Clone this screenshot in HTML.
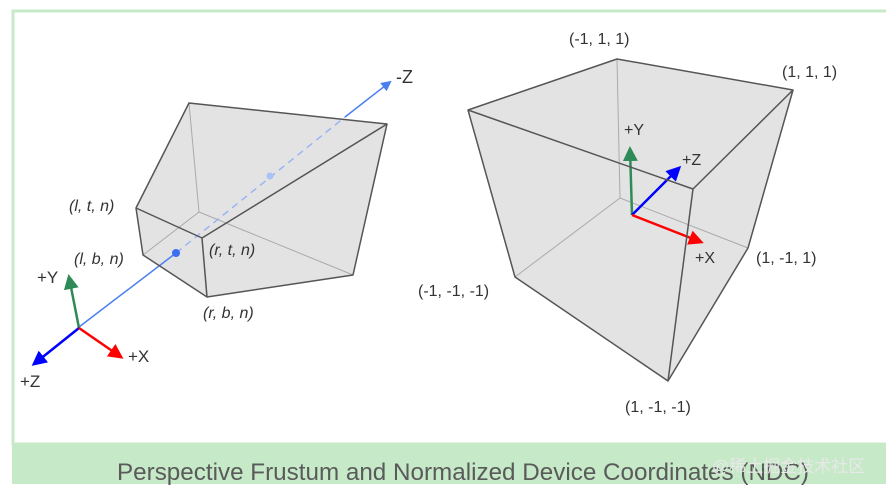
<!DOCTYPE html>
<html><head><style>
html,body{margin:0;padding:0;background:#fff;width:886px;height:492px;overflow:hidden}
svg{display:block}
text{font-family:"Liberation Sans",Arial,sans-serif}
</style></head><body>
<svg width="886" height="492" viewBox="0 0 886 492">
<defs>
<marker id="mb" viewBox="0 0 10 10" refX="8" refY="5" markerWidth="6" markerHeight="6" orient="auto"><path d="M0,0L10,5L0,10z" fill="#0000ff"/></marker>
<marker id="mlb" viewBox="0 0 10 10" refX="8" refY="5" markerWidth="7" markerHeight="7" orient="auto"><path d="M0,0L10,5L0,10z" fill="#4a7ff0"/></marker>
<marker id="mr" viewBox="0 0 10 10" refX="8" refY="5" markerWidth="6" markerHeight="6" orient="auto"><path d="M0,0L10,5L0,10z" fill="#ff0000"/></marker>
<marker id="mg" viewBox="0 0 10 10" refX="8" refY="5" markerWidth="6" markerHeight="6" orient="auto"><path d="M0,0L10,5L0,10z" fill="#2e8b57"/></marker>
</defs>
<rect x="13" y="11" width="880" height="433" fill="#fff" stroke="#c6e9c8" stroke-width="3"/>
<rect x="12" y="443" width="874" height="41" fill="#c6e9c8"/>
<text x="117" y="480" font-size="24" fill="#5a5a5a" textLength="692" lengthAdjust="spacingAndGlyphs">Perspective Frustum and Normalized Device Coordinates (NDC)</text>
<text x="712" y="472" font-size="17" fill="#e8e8e8" font-family="Liberation Sans,Noto Sans CJK SC,sans-serif">@稀土掘金技术社区</text>

<polygon points="189,103 387,124 353,275 207,297 143,255 136,208" fill="#e3e3e3"/>
<g stroke="#aaa" stroke-width="1" fill="none">
<line x1="189" y1="103" x2="199" y2="212"/><line x1="199" y1="212" x2="143" y2="255"/><line x1="199" y1="212" x2="353" y2="275"/>
</g>
<line x1="79" y1="327" x2="176" y2="253" stroke="#4a7ff0" stroke-width="1.5"/>
<line x1="176" y1="253" x2="345" y2="117" stroke="#9ab4f5" stroke-width="1.5" stroke-dasharray="7,5"/>
<line x1="345" y1="117" x2="390" y2="82" stroke="#4a7ff0" stroke-width="1.5" marker-end="url(#mlb)"/>
<circle cx="176" cy="253" r="4" fill="#3a6ff0"/>
<circle cx="270" cy="176" r="3.5" fill="#a9c2f7"/>
<g stroke="#555" stroke-width="1.5" fill="none" stroke-linejoin="round">
<polyline points="136,208 189,103 387,124 202,238 136,208 143,255 207,297 202,238"/>
<polyline points="207,297 353,275 387,124"/>
</g>
<g font-size="16" fill="#333" font-style="italic">
<text x="69" y="211">(l, t, n)</text>
<text x="74" y="264">(l, b, n)</text>
<text x="209" y="255">(r, t, n)</text>
<text x="203" y="318">(r, b, n)</text>
</g>
<text x="396" y="83" font-size="18" fill="#333">-Z</text>
<line x1="79" y1="328" x2="69" y2="277" stroke="#2e8b57" stroke-width="2.5" marker-end="url(#mg)"/>
<line x1="79" y1="328" x2="34" y2="364" stroke="#0000ff" stroke-width="2.5" marker-end="url(#mb)"/>
<line x1="79" y1="328" x2="121" y2="357" stroke="#ff0000" stroke-width="2.5" marker-end="url(#mr)"/>
<text x="37" y="283" font-size="17" fill="#333">+Y</text>
<text x="20" y="387" font-size="17" fill="#333">+Z</text>
<text x="128" y="362" font-size="17" fill="#333">+X</text>

<polygon points="468,110 617,59 793,90 748,248 668,381 515,277" fill="#e3e3e3"/>
<g stroke="#aaa" stroke-width="1" fill="none">
<polyline points="617,59 620,198 515,277"/><line x1="620" y1="198" x2="748" y2="248"/>
</g>
<line x1="632" y1="215" x2="630" y2="149" stroke="#2e8b57" stroke-width="2.5" marker-end="url(#mg)"/>
<line x1="632" y1="215" x2="679" y2="168" stroke="#0000ff" stroke-width="2.5" marker-end="url(#mb)"/>
<line x1="632" y1="215" x2="701" y2="242" stroke="#ff0000" stroke-width="2.5" marker-end="url(#mr)"/>
<g stroke="#555" stroke-width="1.5" fill="none" stroke-linejoin="round">
<polyline points="468,110 617,59 793,90 693,189 468,110 515,277 668,381 693,189"/>
<polyline points="668,381 748,248 793,90"/>
</g>
<g font-size="16" fill="#333">
<text x="569" y="44">(-1, 1, 1)</text>
<text x="782" y="77">(1, 1, 1)</text>
<text x="624" y="135">+Y</text>
<text x="682" y="165">+Z</text>
<text x="695" y="263">+X</text>
<text x="756" y="263">(1, -1, 1)</text>
<text x="418" y="296">(-1, -1, -1)</text>
<text x="625" y="412">(1, -1, -1)</text>
</g>
</svg>
</body></html>
